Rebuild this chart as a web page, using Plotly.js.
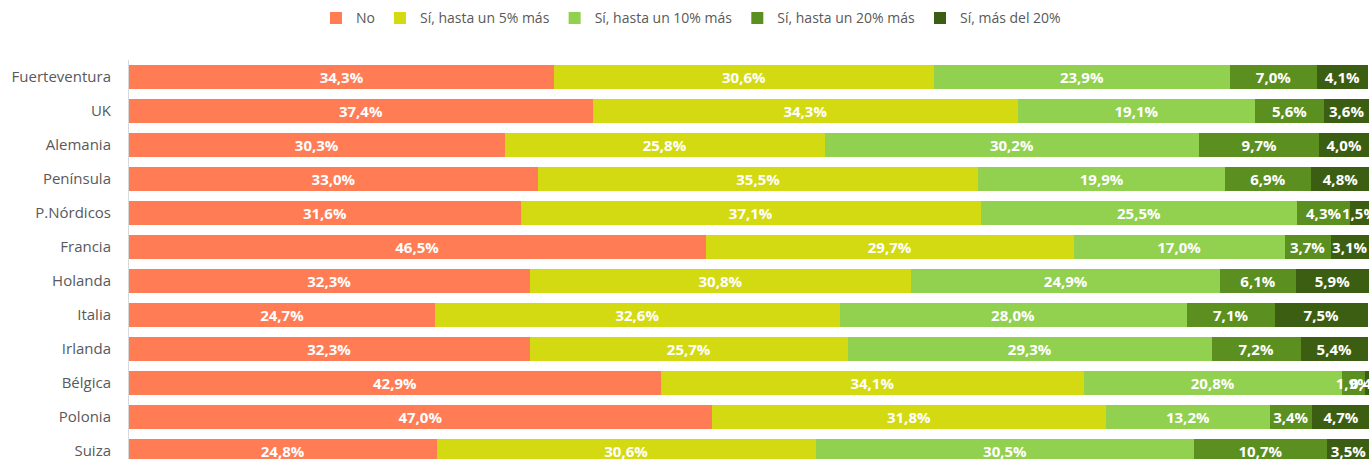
<!DOCTYPE html>
<html><head><meta charset="utf-8">
<script src="https://cdn.plot.ly/plotly-3.0.1.min.js"></script>
<style>html,body{margin:0;padding:0;overflow:hidden;background:#fff}</style>
</head><body><div id="chart" style="width:1371px;height:470px"></div>
<script>
const categories = ["Fuerteventura","UK","Alemania","Península","P.Nórdicos","Francia","Holanda","Italia","Irlanda","Bélgica","Polonia","Suiza"];
const seriesNames = ["No","Sí, hasta un 5% más","Sí, hasta un 10% más","Sí, hasta un 20% más","Sí, más del 20%"];
const no      = [34.3,37.4,30.3,33.0,31.6,46.5,32.3,24.7,32.3,42.9,47.0,24.8];
const hasta5  = [30.6,34.3,25.8,35.5,37.1,29.7,30.8,32.6,25.7,34.1,31.8,30.6];
const hasta10 = [23.9,19.1,30.2,19.9,25.5,17.0,24.9,28.0,29.3,20.8,13.2,30.5];
const hasta20 = [7.0,5.6,9.7,6.9,4.3,3.7,6.1,7.1,7.2,1.9,3.4,10.7];
const mas20   = [4.1,3.6,4.0,4.8,1.5,3.1,5.9,7.5,5.4,0.4,4.7,3.5];
const colors = ["#FF7C55","#D4DA12","#92D050","#5B8F1F","#3C5E12"];
const allSeries = [no,hasta5,hasta10,hasta20,mas20];
const traces = allSeries.map((vals,i)=>({
  type:"bar", orientation:"h", name:seriesNames[i], y:categories, x:vals,
  marker:{color:colors[i]}, texttemplate:"%{x:.1f}%", textposition:"inside",
  insidetextanchor:"middle", constraintext:"none", textangle:0,
  textfont:{family:"Open Sans, Noto Sans, sans-serif", size:15, color:"#ffffff", weight:"bold"},
  hoverinfo:"x+name"
}));
const layout = {
  width:1371, height:470, barmode:"stack", bargap:0.29, separators:",.",
  margin:{l:129,r:2,t:60,b:2}, paper_bgcolor:"#fff", plot_bgcolor:"#fff",
  font:{family:"Open Sans, Noto Sans, sans-serif", color:"#595959"},
  showlegend:true,
  legend:{orientation:"h", x:0.504, xanchor:"center", xref:"container", y:0.995, yanchor:"top", yref:"container",
    font:{size:14,color:"#595959"}, traceorder:"normal"},
  xaxis:{range:[0,100], showticklabels:false, showgrid:false, zeroline:false, fixedrange:true},
  yaxis:{autorange:"reversed", showline:true, linecolor:"#d9d9d9", linewidth:1, ticks:"",
    tickfont:{size:15,color:"#595959"}, ticklabelstandoff:14}
};
Plotly.newPlot("chart", traces, layout, {displayModeBar:false, staticPlot:true});
</script></body></html>
